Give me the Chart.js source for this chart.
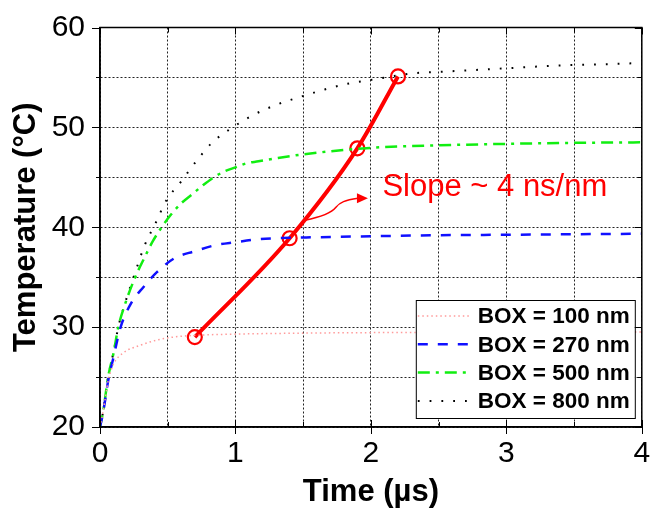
<!DOCTYPE html>
<html><head><meta charset="utf-8">
<script src="https://cdn.jsdelivr.net/npm/chart.js@4"></script>
<style>html,body{margin:0;padding:0;background:#fff}</style>
</head><body>
<canvas id="c" width="651" height="511"></canvas>
<script>
// ---- data ----
const xTickLabels = [0, 1, 2, 3, 4];
const yTickLabels = [20, 30, 40, 50, 60];

const t100 = [0, 0.025, 0.06, 0.1, 0.17, 0.3, 0.42, 0.54, 0.74, 1.0, 1.5, 2.0, 3.0, 4.0];
const T100 = [20, 21.7, 24.6, 26.3, 27.4, 28.2, 28.7, 29.0, 29.2, 29.3, 29.4, 29.45, 29.5, 29.5];

const t270 = [0, 0.025, 0.06, 0.1, 0.15, 0.23, 0.32, 0.42, 0.55, 0.7, 0.85, 1.0, 1.17, 1.3, 1.6, 2.0, 2.5, 3.0, 3.5, 4.0];
const T270 = [20, 21.6, 24.6, 27.0, 29.9, 32.4, 34.0, 35.5, 36.9, 37.6, 38.2, 38.5, 38.8, 38.9, 39.0, 39.1, 39.2, 39.25, 39.3, 39.35];

const t500 = [0, 0.025, 0.06, 0.1, 0.135, 0.19, 0.26, 0.33, 0.39, 0.455, 0.52, 0.6, 0.68, 0.76, 0.84, 0.92, 1.0, 1.08, 1.17, 1.3, 1.5, 2.0, 2.5, 3.0, 3.5, 4.0];
const T500 = [20, 21.7, 25.0, 27.4, 30.0, 32.5, 35.0, 37.0, 38.6, 40.0, 41.2, 42.4, 43.3, 44.2, 45.0, 45.6, 46.0, 46.4, 46.6, 46.9, 47.3, 47.95, 48.2, 48.35, 48.45, 48.5];

const t800 = [0, 0.025, 0.06, 0.1, 0.135, 0.185, 0.27, 0.33, 0.41, 0.49, 0.60, 0.71, 0.83, 0.98, 1.14, 1.31, 1.49, 1.66, 1.84, 2.02, 2.3, 2.56, 2.84, 3.11, 3.39, 3.67, 4.0];
const T800 = [20, 21.7, 25.0, 27.5, 30.0, 32.4, 35.9, 38.2, 40.4, 42.7, 44.6, 46.6, 48.5, 50.0, 51.3, 52.3, 53.1, 53.8, 54.4, 54.8, 55.4, 55.6, 55.8, 56.0, 56.2, 56.3, 56.45];

const tRed = [0.7, 1.4, 1.9, 2.2];
const TRed = [29.0, 38.9, 47.9, 55.1];

const seriesLabels = ['BOX = 100 nm', 'BOX = 270 nm', 'BOX = 500 nm', 'BOX = 800 nm'];

const slopeText = 'Slope ~ 4 ns/nm';
const slopeTextAt = [2.085, 43.1];
const arrowCurve = [[1.513, 40.7], [1.661, 41.1], [1.712, 41.5], [1.742, 42.0], [1.771, 42.5], [1.808, 42.7], [1.904, 42.9]];
const arrowTip = [1.978, 42.9];

// ---- build ----
const F = "'Liberation Sans', Arial, Helvetica, sans-serif";
const pts = (ts, vs) => ts.map((t, i) => ({x: t, y: vs[i]}));

const legendPlugin = {
  id: 'boxLegend',
  afterDatasetsDraw(chart) {
    const {ctx, chartArea: a} = chart;
    const w = 219, h = 118;
    const R = a.right - 7, B = a.bottom - 9, L = R - w, T = B - h;
    ctx.save();
    ctx.fillStyle = '#fff';
    ctx.fillRect(L, T, w, h);
    ctx.strokeStyle = '#000'; ctx.lineWidth = 1; ctx.setLineDash([]);
    ctx.strokeRect(L + 0.5, T + 0.5, w, h);
    ctx.font = 'bold 22.5px ' + F;
    ctx.textBaseline = 'middle'; ctx.textAlign = 'left';
    for (let i = 0; i < 4; i++) {
      const ds = chart.data.datasets[i];
      const yy = T + 16 + i * 28.3;
      ctx.save();
      ctx.strokeStyle = ds.borderColor; ctx.lineWidth = ds.borderWidth;
      ctx.setLineDash(ds.borderDash || []);
      ctx.beginPath(); ctx.moveTo(L + 2, yy); ctx.lineTo(L + 54, yy); ctx.stroke();
      ctx.restore();
      ctx.fillStyle = '#000';
      ctx.fillText(ds.label, L + 62, yy + 1);
    }
    ctx.restore();
  }
};

const annotPlugin = {
  id: 'annot',
  afterDatasetsDraw(chart) {
    const {ctx, scales: {x, y}} = chart;
    const P = p => [x.getPixelForValue(p[0]), y.getPixelForValue(p[1])];
    ctx.save();
    ctx.fillStyle = '#ff0000'; ctx.strokeStyle = '#ff0000';
    ctx.font = '31px ' + F; ctx.textBaseline = 'alphabetic'; ctx.textAlign = 'left';
    const tp = P(slopeTextAt);
    ctx.fillText(slopeText, tp[0], tp[1]);
    const c = arrowCurve.map(P);
    ctx.lineWidth = 1.5; ctx.setLineDash([]);
    ctx.beginPath();
    ctx.moveTo(c[0][0], c[0][1]);
    ctx.bezierCurveTo(c[1][0], c[1][1], c[2][0], c[2][1], c[3][0], c[3][1]);
    ctx.bezierCurveTo(c[4][0], c[4][1], c[5][0], c[5][1], c[6][0], c[6][1]);
    ctx.stroke();
    const tip = P(arrowTip);
    const e = c[6];
    const dx = tip[0] - e[0], dy = tip[1] - e[1], len = Math.hypot(dx, dy);
    const ux = dx / len, uy = dy / len;
    const bx = tip[0] - ux * 11, by = tip[1] - uy * 11;
    ctx.beginPath();
    ctx.moveTo(tip[0], tip[1]);
    ctx.lineTo(bx - uy * 5, by + ux * 5);
    ctx.lineTo(bx + uy * 5, by - ux * 5);
    ctx.closePath(); ctx.fill();
    ctx.restore();
  }
};

const framePlugin = {
  id: 'frame',
  afterDraw(chart) {
    const {ctx, chartArea: a, scales: {x, y}} = chart;
    ctx.save();
    ctx.strokeStyle = '#000'; ctx.lineWidth = 1; ctx.setLineDash([]);
    ctx.beginPath();
    x.ticks.forEach(tk => {
      const v = tk.value;
      const px = Math.round(x.getPixelForValue(v)) + 0.5;
      const major = xTickLabels.includes(v);
      const Ln = major ? 7 : 5;
      ctx.moveTo(px, a.bottom - Ln); ctx.lineTo(px, a.bottom + (major ? 7 : 0));
      ctx.moveTo(px, a.top); ctx.lineTo(px, a.top + Ln);
    });
    y.ticks.forEach(tk => {
      const v = tk.value;
      const py = Math.round(y.getPixelForValue(v)) + 0.5;
      const major = yTickLabels.includes(v);
      ctx.moveTo(a.left - (major ? 8 : 4), py); ctx.lineTo(a.left, py);
      ctx.moveTo(a.right - (major ? 7 : 4), py); ctx.lineTo(a.right, py);
    });
    ctx.stroke();
    ctx.lineWidth = 1.5;
    ctx.strokeRect(a.left, a.top, a.right - a.left, a.bottom - a.top);
    ctx.restore();
  }
};

const gridCommon = {color: '#222', lineWidth: 1, drawTicks: false};
const borderCommon = {display: true, color: '#000', width: 1.5, dash: [2, 2]};

new Chart(document.getElementById('c'), {
  type: 'line',
  data: {
    datasets: [
      {label: seriesLabels[0], data: pts(t100, T100), borderColor: '#ff9a9a', borderWidth: 1.5, borderDash: [1.5, 3], cubicInterpolationMode: 'monotone', pointRadius: 0, fill: false},
      {label: seriesLabels[1], data: pts(t270, T270), borderColor: '#1010ff', borderWidth: 2.5, borderDash: [10, 10], cubicInterpolationMode: 'monotone', pointRadius: 0, fill: false},
      {label: seriesLabels[2], data: pts(t500, T500), borderColor: '#11ee11', borderWidth: 2.5, borderDash: [12, 6, 3, 6], cubicInterpolationMode: 'monotone', pointRadius: 0, fill: false},
      {label: seriesLabels[3], data: pts(t800, T800), borderColor: '#000000', borderWidth: 2, borderDash: [1.8, 10], cubicInterpolationMode: 'monotone', pointRadius: 0, fill: false},
      {label: 'slope', data: pts(tRed, TRed), borderColor: '#ff0000', borderWidth: 4, cubicInterpolationMode: 'monotone',
       pointRadius: 7, pointBorderWidth: 2.2, pointBorderColor: '#ff0000', pointBackgroundColor: 'rgba(0,0,0,0)', pointStyle: 'circle', fill: false}
    ]
  },
  options: {
    responsive: false, animation: false, devicePixelRatio: 1,
    layout: {padding: {top: 27.5, right: 9, left: 0, bottom: 0}},
    plugins: {legend: {display: false}, tooltip: {enabled: false}},
    scales: {
      x: {
        type: 'linear', min: 0, max: 4,
        afterFit(s) { s.height = 84; s.paddingLeft = 0; s.paddingRight = 0; },
        ticks: {stepSize: 0.5, autoSkip: false, maxRotation: 0, padding: 9, color: '#000',
          font: {family: F, size: 30},
          callback: v => xTickLabels.includes(v) ? String(v) : ''},
        grid: gridCommon, border: borderCommon,
        title: {display: true, text: 'Time (µs)', color: '#000', font: {family: F, size: 31, weight: 'bold'}, padding: {top: 0, bottom: 0}}
      },
      y: {
        type: 'linear', min: 20, max: 60,
        afterFit(s) { s.width = 100; s.paddingTop = 0; s.paddingBottom = 0; },
        ticks: {stepSize: 5, autoSkip: false, padding: 15, color: '#000',
          font: {family: F, size: 30},
          callback: v => yTickLabels.includes(v) ? String(v) : ''},
        grid: gridCommon, border: borderCommon,
        title: {display: true, text: 'Temperature (°C)', color: '#000', font: {family: F, size: 31, weight: 'bold'}, padding: {top: 8, bottom: 0}}
      }
    }
  },
  plugins: [legendPlugin, annotPlugin, framePlugin]
});
</script>
</body></html>
